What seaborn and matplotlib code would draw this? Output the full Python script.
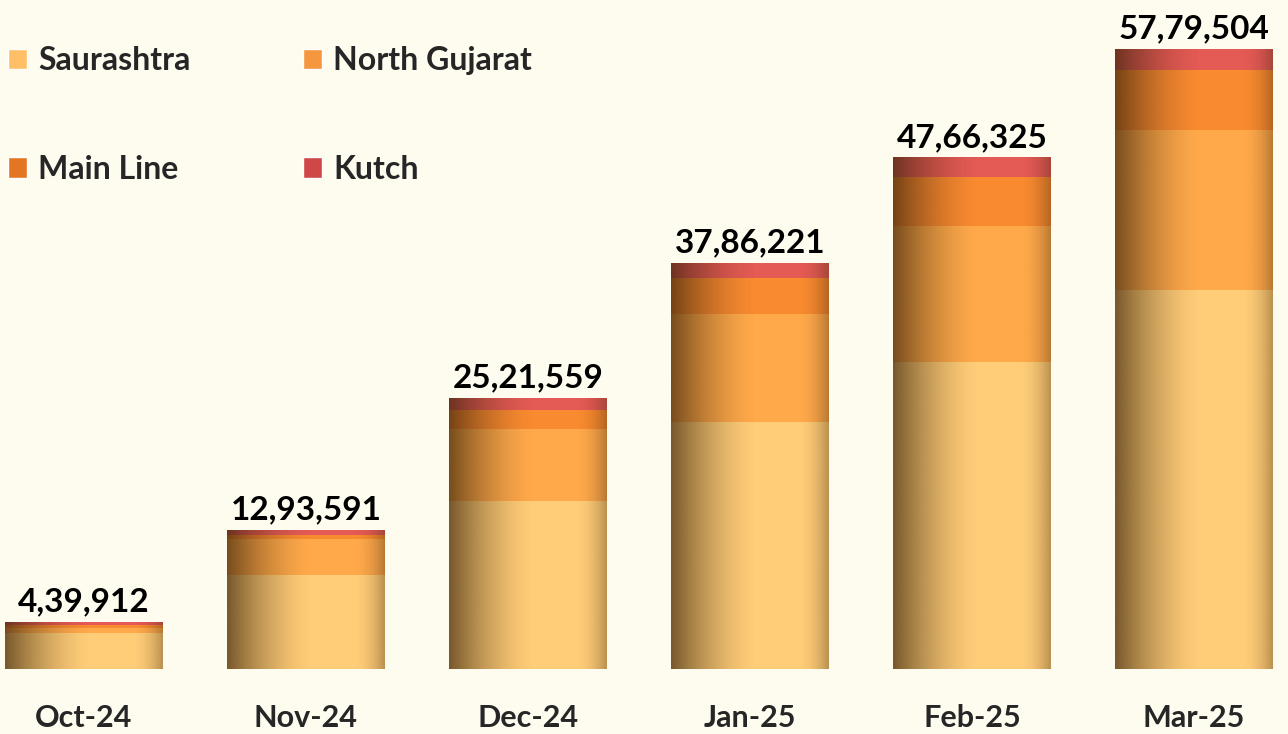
import numpy as np
import pandas as pd
import seaborn as sns
import matplotlib.pyplot as plt
from matplotlib.patches import Patch

# values (stack order bottom -> top)
months = ['Oct-24', 'Nov-24', 'Dec-24', 'Jan-25', 'Feb-25', 'Mar-25']
saurashtra = [335000, 880000, 1564000, 2299000, 2857000, 3527000]
north_gujarat = [50000, 330000, 670000, 1005000, 1266000, 1498000]
main_line = [25000, 42000, 177000, 335000, 465000, 558000]
kutch = [29912, 41591, 110559, 147221, 178325, 196504]

regions = ['Saurashtra', 'North Gujarat', 'Main Line', 'Kutch']
bar_colors = ['#FFCD78', '#FFA94A', '#F98A30', '#E45A55']
legend_colors = ['#FFBF66', '#F5973F', '#E47522', '#CF4746']
bg = '#FEFBEF'


def indian_format(n):
    s = str(int(n))
    last3, rest = s[-3:], s[:-3]
    groups = []
    while len(rest) > 2:
        groups.insert(0, rest[-2:])
        rest = rest[:-2]
    if rest:
        groups.insert(0, rest)
    return ','.join(groups + [last3])


df = pd.DataFrame({'month': months, 'Saurashtra': saurashtra,
                   'North Gujarat': north_gujarat, 'Main Line': main_line,
                   'Kutch': kutch})
cum = df[regions].cumsum(axis=1)
totals = cum['Kutch'].values

sns.set_theme(style='white')
plt.rcParams['font.family'] = ['Lato', 'DejaVu Sans']
plt.rcParams['font.weight'] = 'bold'

fig = plt.figure(figsize=(12.88, 7.34), dpi=100, facecolor=bg)
ax = fig.add_axes([0, 65 / 734, 1, 669 / 734])
ax.set_facecolor(bg)

# horizontal cylinder shading profile
t = np.linspace(0, 1, 200)
dark = np.where(t < 0.55, 0.68 * (1 - t / 0.55) ** 1.6, 0.0)
dark = dark + np.where(t > 0.8, 0.35 * ((t - 0.8) / 0.2) ** 2, 0.0)
shade = np.zeros((1, len(t), 4))
shade[0, :, :3] = np.array([55, 32, 8]) / 255
shade[0, :, 3] = dark

# draw cumulative bars top layer first so lower layers sit in front
z = 2
for reg, col in zip(regions[::-1], bar_colors[::-1]):
    before = len(ax.patches)
    sns.barplot(x=df['month'], y=cum[reg], color=col, saturation=1,
                width=0.71, ax=ax, zorder=z)
    for p in ax.patches[before:]:
        p.set_zorder(z)
        p.set_edgecolor('none')
        x0, y0 = p.get_x(), p.get_y()
        w, h = p.get_width(), p.get_height()
        im = ax.imshow(shade, extent=[x0, x0 + w, y0, y0 + h], aspect='auto',
                       interpolation='bilinear', zorder=z + 0.5)
        im.set_clip_path(p)
    z += 2

for i, tot in enumerate(totals):
    ax.annotate(indian_format(tot), (i, tot), xytext=(0, 4),
                textcoords='offset points', ha='center', va='bottom',
                fontsize=24, fontweight='bold', color='black', zorder=20)

ax.set_xlim(-0.378, 5.423)
ax.set_ylim(0, 6233000)
ax.set_xlabel('')
ax.set_ylabel('')
ax.set_yticks([])
ax.tick_params(axis='x', length=0, pad=25, labelsize=22)
for lbl in ax.get_xticklabels():
    lbl.set_fontweight('bold')
sns.despine(ax=ax, left=True, bottom=True)

handles = [Patch(facecolor=c, label=r) for r, c in zip(regions, legend_colors)]
order = [0, 2, 1, 3]
ax.legend([handles[k] for k in order], [regions[k] for k in order],
          ncol=2, frameon=False, loc='upper left',
          bbox_to_anchor=(8 / 1288, 1 - 46 / 734), bbox_transform=fig.transFigure,
          prop={'size': 23, 'weight': 'bold'}, handlelength=0.6, handleheight=0.6,
          handletextpad=0.35, labelspacing=2.5, columnspacing=3.5, borderpad=0,
          borderaxespad=0)

fig.savefig('out.png', dpi=100, facecolor=bg)
